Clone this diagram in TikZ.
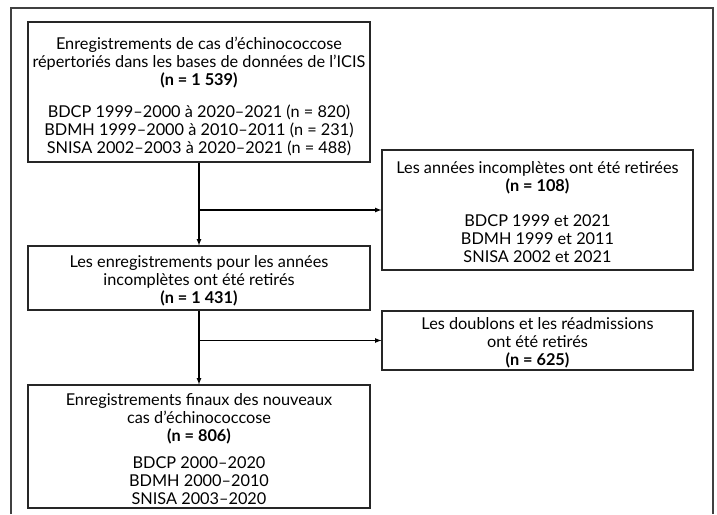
\documentclass[tikz,border=0pt]{standalone}
\usepackage{fontspec}
\setmainfont{Lato}
\newcommand\haut[1]{\rule{0pt}{#1}}

\begin{document}
\begin{tikzpicture}[x=1pt, y=-1pt, line width=1.2pt, >=latex,
    cadre/.style={draw=black!85, line width=1.1pt, align=center, inner sep=0pt,
      font=\fontsize{16.3}{18}\selectfont}]
			\useasboundingbox (0,0) rectangle (717,514);
			% cadre exterieur
			\draw[black!75, line width=1.2pt] (11,514) -- (11,8) -- (713,8) -- (713,514);
			\node (A) at (199,92) [cadre, minimum width=342pt, minimum height=140pt] {\haut{21pt}Enregistrements de cas d’échinococcose \\ répertoriés dans les bases de données de l’ICIS \\ \textbf{(n = 1 539)} \\[14pt] BDCP 1999–2000 à 2020–2021 (n = 820) \\ BDMH 1999–2000 à 2010–2011 (n = 231) \\ SNISA 2002–2003 à 2020–2021 (n = 488)};
			\node (B) at (199,278) [cadre, minimum width=342pt, minimum height=64pt] {\haut{17pt}Les enregistrements pour les années \\ incomplètes ont été retirés \\ \textbf{(n = 1 431)}};
			\node (C) at (537.5,210) [cadre, minimum width=311pt, minimum height=120pt] {\haut{16pt}Les années incomplètes ont été retirées \\ \textbf{(n = 108)} \\[17pt] BDCP 1999 et 2021 \\ BDMH 1999 et 2011 \\ SNISA 2002 et 2021};
			\node (D) at (199,446.5) [cadre, minimum width=342pt, minimum height=123pt] {\haut{18pt}Enregistrements finaux des nouveaux \\ cas d’échinococcose \\ \textbf{(n = 806)} \\[9pt] BDCP 2000–2020 \\ BDMH 2000–2010 \\ SNISA 2003–2020};
			\node (E) at (537.5,340.5) [cadre, minimum width=311pt, minimum height=59pt] {\haut{17pt}Les doublons et les réadmissions \\ ont été retirés \\ \textbf{(n = 625)}};
			\draw[->] (A) -- (B);
			\draw[->] (A.south |- C.west) -- (C.west);
			\draw[->] (B) -- (D);
			\draw[->] (B.south |- E.west) -- (E.west);
		\end{tikzpicture}
\end{document}
